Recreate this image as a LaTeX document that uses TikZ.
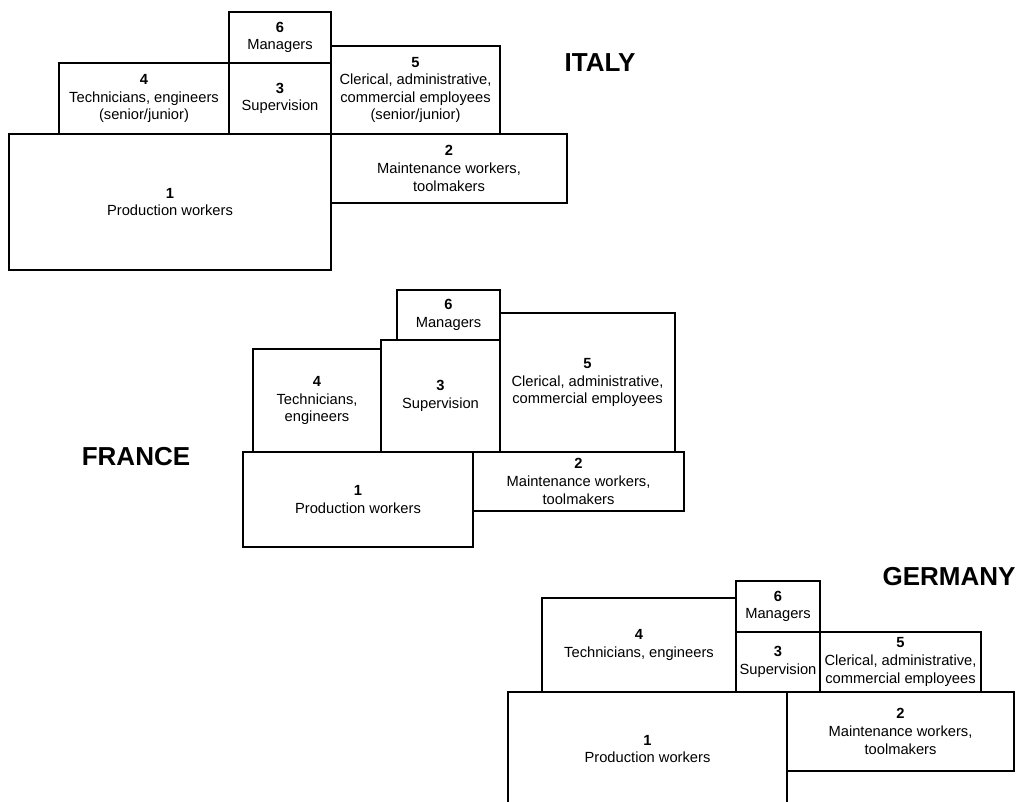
\documentclass[tikz,border=0pt]{standalone}
\usepackage{fontspec}
\setmainfont{Liberation Sans}

\begin{document}
\begin{tikzpicture}[
  x=1pt, y=-1pt,
  box/.style={draw=black, line width=1.1pt, align=center, inner sep=2pt,
              outer sep=0pt, font=\fontsize{14.7}{17.6}\selectfont},
  country/.style={font=\fontsize{26}{30}\selectfont\bfseries, inner sep=0pt}
]
\useasboundingbox (0,0) rectangle (1019,802);
\clip (0,0) rectangle (1019,802);

% Italy
\node[box, minimum width=322pt, minimum height=136pt, anchor=north west] (it1) at (9,134)
  {\textbf{1}\\Production workers};
\node[box, minimum width=236pt, minimum height=69pt, anchor=north west] (it2) at (it1.north east)
  {\textbf{2}\\Maintenance workers,\\toolmakers};
\node[box, minimum width=102pt, minimum height=71pt, anchor=south east] (it3) at (it1.north east)
  {\textbf{3}\\Supervision};
\node[box, minimum width=170pt, minimum height=71pt, anchor=south east] (it4) at (it3.south west)
  {\textbf{4}\\Technicians, engineers\\(senior/junior)};
\node[box, minimum width=169pt, minimum height=88pt, anchor=south west] (it5) at (it3.south east)
  {\textbf{5}\\Clerical, administrative,\\commercial employees\\(senior/junior)};
\node[box, minimum width=102pt, minimum height=51pt, anchor=south] (it6) at (it3.north)
  {\textbf{6}\\Managers};
\node[country] (italy) at (600,62.5) {ITALY};

% France
\node[box, minimum width=230pt, minimum height=95pt, anchor=north west] (fr1) at (243,452)
  {\textbf{1}\\Production workers};
\node[box, minimum width=211pt, minimum height=59pt, anchor=north west] (fr2) at (fr1.north east)
  {\textbf{2}\\Maintenance workers,\\toolmakers};
\node[box, minimum width=119pt, minimum height=112pt, anchor=south west] (fr3) at (381,452)
  {\textbf{3}\\Supervision};
\node[box, minimum width=128pt, minimum height=103pt, anchor=south east] (fr4) at (fr3.south west)
  {\textbf{4}\\Technicians,\\engineers};
\node[box, minimum width=175pt, minimum height=139pt, anchor=south west] (fr5) at (fr3.south east)
  {\textbf{5}\\Clerical, administrative,\\commercial employees};
\node[box, minimum width=103pt, minimum height=50pt, anchor=south east] (fr6) at (fr3.north east)
  {\textbf{6}\\Managers};
\node[country] (france) at (136,456.5) {FRANCE};

% Germany
\node[box, minimum width=279pt, minimum height=114pt, anchor=north west] (de1) at (508,692)
  {\textbf{1}\\Production workers};
\node[box, minimum width=227pt, minimum height=79pt, anchor=north west] (de2) at (de1.north east)
  {\textbf{2}\\Maintenance workers,\\toolmakers};
\node[box, minimum width=84pt, minimum height=60pt, anchor=south west] (de3) at (736,692)
  {\textbf{3}\\Supervision};
\node[box, minimum width=194pt, minimum height=94pt, anchor=south east] (de4) at (de3.south west)
  {\textbf{4}\\Technicians, engineers};
\node[box, minimum width=161pt, minimum height=60pt, anchor=south west] (de5) at (de3.south east)
  {\textbf{5}\\Clerical, administrative,\\commercial employees};
\node[box, minimum width=84pt, minimum height=51pt, anchor=south] (de6) at (de3.north)
  {\textbf{6}\\Managers};
\node[country] (germany) at (949,576.5) {GERMANY};
\end{tikzpicture}
\end{document}
